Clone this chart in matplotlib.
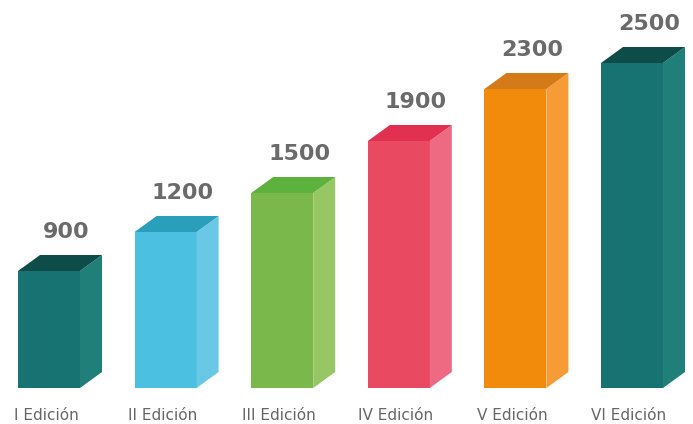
import matplotlib
matplotlib.use("Agg")
import matplotlib.pyplot as plt
from matplotlib.patches import Polygon

categories = ["I Edición", "II Edición", "III Edición", "IV Edición", "V Edición", "VI Edición"]
values = [900, 1200, 1500, 1900, 2300, 2500]
front_colors = ["#167371", "#4bc0e1", "#7ab84b", "#e94a61", "#f28a0b", "#167371"]
side_colors = ["#208079", "#68c8e6", "#97c764", "#ee6a82", "#f69b35", "#208079"]
top_colors = ["#0e4c49", "#2a9fbb", "#5cb23c", "#e23050", "#d57a19", "#0e4c49"]

W, H = 693, 424
fig = plt.figure(figsize=(W / 100, H / 100), dpi=100)
ax = fig.add_axes([0, 0, 1, 1])

px_x = 116.6          # pixels per category
x0_px = 49            # pixel of first bar centre
px_per_val = 0.13     # pixels per unit value
base_px = 36          # baseline from bottom in pixels

ax.set_xlim(-x0_px / px_x, (W - x0_px) / px_x)
ax.set_ylim(-base_px / px_per_val, (H - base_px) / px_per_val)
ax.axis("off")

bw = 62 / px_x
dx = 22 / px_x
dy = 16 / px_per_val

for i, (v, fc, sc, tc) in enumerate(zip(values, front_colors, side_colors, top_colors)):
    l, r = i - bw / 2, i + bw / 2
    ax.add_patch(Polygon([(l, 0), (r, 0), (r, v), (l, v)], closed=True, facecolor=fc, edgecolor="none"))
    ax.add_patch(Polygon([(r, 0), (r + dx, dy), (r + dx, v + dy), (r, v)], closed=True, facecolor=sc, edgecolor="none"))
    ax.add_patch(Polygon([(l, v), (r, v), (r + dx, v + dy), (l + dx, v + dy)], closed=True, facecolor=tc, edgecolor="none"))
    ax.text(i + 17 / px_x, v + 39 / px_per_val, str(v), ha="center", va="center",
            fontsize=16, fontweight="bold", color="#6a6a6a", family="DejaVu Sans")
    ax.text(i - 3 / px_x, -27 / px_per_val, categories[i], ha="center", va="center",
            fontsize=11, color="#666666", family="DejaVu Sans")

fig.savefig("out.png", dpi=100)
